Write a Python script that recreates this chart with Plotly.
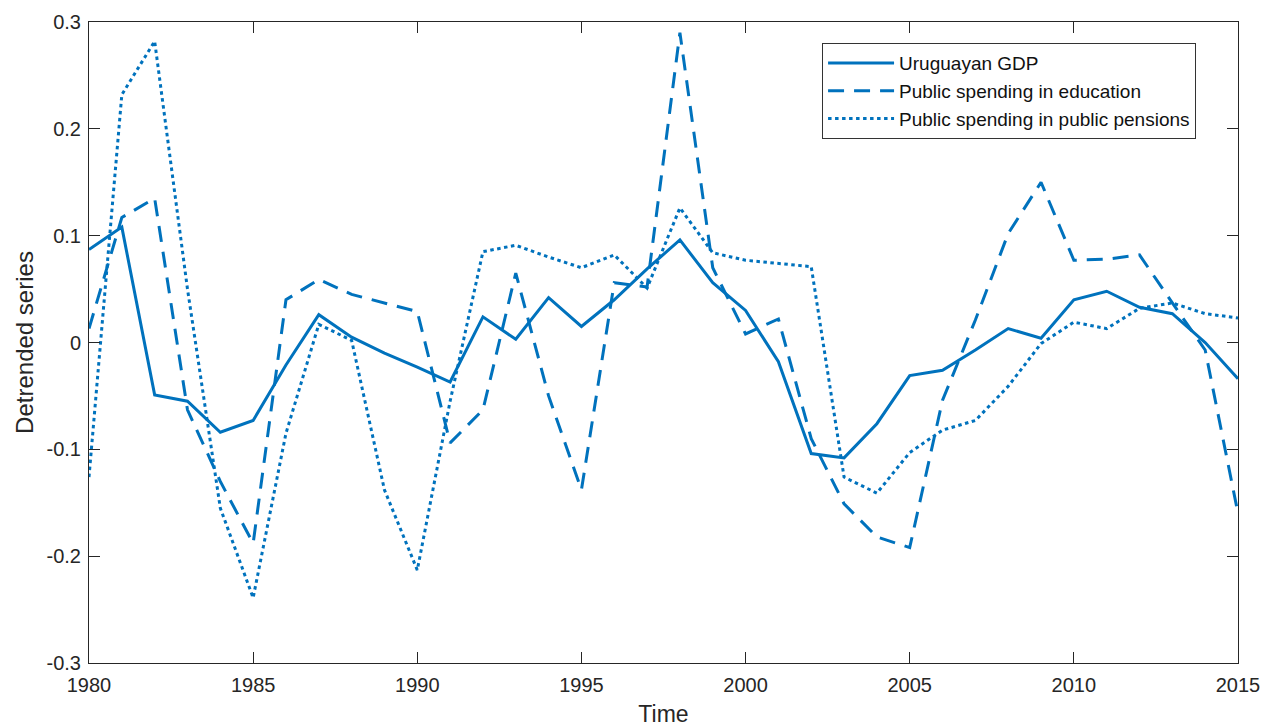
import plotly.graph_objects as go

# Annual detrended series, 1980-2015
years = list(range(1980, 2016))

gdp = [0.087, 0.108, -0.049, -0.055, -0.084, -0.073, -0.021, 0.026, 0.005, -0.010,
       -0.023, -0.037, 0.024, 0.003, 0.042, 0.015, 0.040, 0.069, 0.096, 0.056,
       0.030, -0.018, -0.104, -0.108, -0.076, -0.031, -0.026, -0.007, 0.013, 0.004,
       0.040, 0.048, 0.033, 0.027, 0.000, -0.034]

education = [0.013, 0.117, 0.135, -0.063, -0.130, -0.188, 0.040, 0.059, 0.045, 0.037,
             0.029, -0.094, -0.063, 0.065, -0.050, -0.138, 0.056, 0.052, 0.290, 0.070,
             0.008, 0.022, -0.090, -0.151, -0.182, -0.192, -0.054, 0.021, 0.102, 0.150,
             0.077, 0.078, 0.082, 0.037, -0.007, -0.160]

pensions = [-0.126, 0.232, 0.282, 0.050, -0.155, -0.239, -0.085, 0.017, 0.002, -0.138,
            -0.213, -0.055, 0.085, 0.091, 0.080, 0.070, 0.082, 0.051, 0.126, 0.084,
            0.077, 0.074, 0.071, -0.126, -0.141, -0.103, -0.082, -0.073, -0.041, -0.001,
            0.019, 0.013, 0.032, 0.037, 0.027, 0.023]

series_names = ["Uruguayan GDP", "Public spending in education",
                "Public spending in public pensions"]

x_ticks = [1980, 1985, 1990, 1995, 2000, 2005, 2010, 2015]
y_ticks = [-0.3, -0.2, -0.1, 0, 0.1, 0.2, 0.3]
y_tick_text = ["-0.3", "-0.2", "-0.1", "0", "0.1", "0.2", "0.3"]

blue = "#0072BD"
axis_grey = "#262626"
font_family = "Liberation Sans, Arial, Helvetica, sans-serif"

fig = go.Figure()
for values, name, dash in [(gdp, series_names[0], "solid"),
                           (education, series_names[1], "16px,10px"),
                           (pensions, series_names[2], "3.5px,3.5px")]:
    fig.add_trace(go.Scatter(
        x=years, y=values, name=name, mode="lines",
        line=dict(color=blue, width=3, dash=dash),
    ))

axis_common = dict(
    showgrid=False, zeroline=False,
    showline=True, linecolor=axis_grey, linewidth=1, mirror="ticks",
    ticks="inside", ticklen=11, tickwidth=1, tickcolor=axis_grey,
    tickfont=dict(family=font_family, size=20, color=axis_grey),
)

fig.update_layout(
    width=1264, height=727,
    margin=dict(l=89, r=26, t=22, b=64),
    paper_bgcolor="white", plot_bgcolor="white",
    font=dict(family=font_family, color=axis_grey),
    showlegend=True,
    legend=dict(
        x=0.638, y=0.967, xanchor="left", yanchor="top",
        bgcolor="white", bordercolor="#333333", borderwidth=1,
        font=dict(family=font_family, size=19, color="#111111"),
        itemwidth=66, tracegroupgap=0,
    ),
    xaxis=dict(
        range=[1980, 2015], tickvals=x_ticks, ticklabelstandoff=4,
        automargin=False, ticklabeloverflow="allow",
        title=dict(text="Time", font=dict(family=font_family, size=23, color=axis_grey),
                   standoff=10),
        **axis_common,
    ),
    yaxis=dict(
        range=[-0.3, 0.3], tickvals=y_ticks, ticktext=y_tick_text, ticklabelstandoff=3,
        title=dict(text="Detrended series",
                   font=dict(family=font_family, size=24, color=axis_grey),
                   standoff=6),
        **axis_common,
    ),
)

fig.write_html("out.html")
